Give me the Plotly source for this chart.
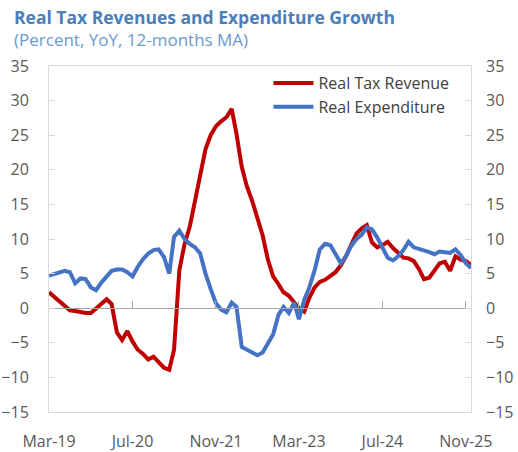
import pandas as pd
import plotly.graph_objects as go

# Monthly observations, Mar-2019 .. Dec-2025
months = pd.date_range("2019-03-01", periods=82, freq="MS")

real_tax_revenue = [
    2.3, 1.6, 1.0, 0.2, -0.3, -0.4, -0.6, -0.7, -0.7, 0.0,
    0.6, 1.3, 0.6, -3.5, -4.6, -3.3, -4.8, -6.0, -6.6, -7.4,
    -7.0, -7.8, -8.6, -8.9, -6.0, 5.5, 9.2, 11.8, 15.5, 19.5,
    23.0, 25.0, 26.3, 27.0, 27.6, 28.8, 25.2, 20.4, 17.6, 15.5,
    12.9, 10.5, 7.0, 4.6, 3.5, 2.3, 1.8, 0.9, 0.0, -0.5,
    1.5, 3.0, 3.8, 4.1, 4.6, 5.2, 6.2, 7.5, 9.2, 10.8,
    11.5, 12.0, 9.5, 8.8, 9.1, 9.6, 8.7, 8.1, 7.3, 7.2,
    6.8, 5.6, 4.2, 4.4, 5.4, 6.5, 6.7, 5.4, 7.5, 7.0,
    6.8, 6.3,
]

real_expenditure = [
    4.7, 4.9, 5.2, 5.4, 5.2, 3.6, 4.3, 4.2, 3.0, 2.6,
    3.7, 4.7, 5.4, 5.6, 5.6, 5.2, 4.6, 6.0, 7.1, 7.9,
    8.4, 8.5, 7.4, 5.0, 10.3, 11.2, 10.0, 9.3, 8.8, 7.9,
    5.0, 2.8, 0.7, -0.2, -0.6, 0.8, 0.2, -5.6, -6.0, -6.3,
    -6.8, -6.4, -5.2, -3.8, -1.0, 0.2, -0.7, 0.8, -1.6, 1.2,
    3.0, 5.5, 8.5, 9.3, 9.1, 7.7, 6.5, 7.5, 9.0, 10.0,
    10.6, 11.7, 11.4, 10.2, 8.8, 7.3, 6.9, 7.5, 8.4, 9.6,
    8.8, 8.6, 8.4, 8.1, 7.8, 8.2, 8.1, 8.0, 8.5, 7.7,
    6.5, 5.8,
]

tick_dates = ["2019-03-01", "2020-07-01", "2021-11-01",
              "2023-03-01", "2024-07-01", "2025-11-01"]
tick_labels = ["Mar-19", "Jul-20", "Nov-21", "Mar-23", "Jul-24", "Nov-25"]
y_ticks = list(range(-15, 40, 5))

FONT = "Open Sans"
GREY = "#595959"
FRAME = "#D9D9D9"
x_range = [months[0], months[-1]]

fig = go.Figure()
fig.add_trace(go.Scatter(
    x=months, y=real_tax_revenue, mode="lines", name="Real Tax Revenue",
    line=dict(color="#C00000", width=4),
))
fig.add_trace(go.Scatter(
    x=months, y=real_expenditure, mode="lines", name="Real Expenditure",
    line=dict(color="#4472C4", width=4),
))

fig.update_layout(
    width=518, height=452,
    margin=dict(l=49, r=47, t=66, b=40, autoexpand=False),
    paper_bgcolor="white", plot_bgcolor="white",
    font=dict(family=FONT, size=16, color=GREY),
    showlegend=True,
    legend=dict(
        x=0.52, y=1.0, xanchor="left", yanchor="top",
        bgcolor="rgba(0,0,0,0)", font=dict(size=16, color="#404040"),
        itemwidth=40,
    ),
    xaxis=dict(
        type="date", range=x_range, automargin=False,
        tickvals=tick_dates, ticktext=tick_labels,
        showgrid=False, zeroline=False,
        showline=True, mirror=True, linecolor=FRAME, linewidth=1,
        ticks="", ticklabelstandoff=15,
        tickfont=dict(size=16, color=GREY),
    ),
    # axis drawn along the zero line, carrying the date tick marks
    xaxis2=dict(
        type="date", range=x_range, overlaying="x", automargin=False,
        anchor="free", position=15 / 50,
        tickvals=tick_dates, showticklabels=False,
        showgrid=False, zeroline=False,
        showline=True, linecolor="#A6A6A6", linewidth=1,
        ticks="inside", ticklen=7, tickcolor="#A6A6A6",
    ),
    yaxis=dict(
        range=[-15, 35], tickvals=y_ticks, automargin=False,
        showgrid=False, zeroline=False,
        showline=True, mirror=True, linecolor=FRAME, linewidth=1,
        ticks="inside", ticklen=6, tickcolor=FRAME,
        ticklabelstandoff=16,
        tickfont=dict(size=16, color=GREY),
    ),
    yaxis2=dict(
        range=[-15, 35], tickvals=y_ticks, overlaying="y", side="right",
        anchor="x", automargin=False,
        showgrid=False, zeroline=False, showline=False,
        ticks="inside", ticklen=6, tickcolor=FRAME,
        ticklabelstandoff=14,
        tickfont=dict(size=16, color=GREY),
    ),
)

# invisible trace so the overlay axes are laid out
fig.add_trace(go.Scatter(
    x=[months[0]], y=[0], xaxis="x2", yaxis="y2", mode="markers",
    marker=dict(opacity=0), showlegend=False, hoverinfo="skip",
))

fig.add_annotation(
    text="<b>Real Tax Revenues and Expenditure Growth</b>",
    xref="paper", yref="paper", x=(12 - 49) / 422, y=(412 - 17) / 346,
    xanchor="left", yanchor="middle", showarrow=False,
    font=dict(family=FONT, size=17.5, color="#4A7EBB"),
)
fig.add_annotation(
    text="(Percent, YoY, 12-months MA)",
    xref="paper", yref="paper", x=(12 - 49) / 422, y=(412 - 40) / 346,
    xanchor="left", yanchor="middle", showarrow=False,
    font=dict(family=FONT, size=17, color="#6A9AD0"),
)

fig.write_html("out.html")
